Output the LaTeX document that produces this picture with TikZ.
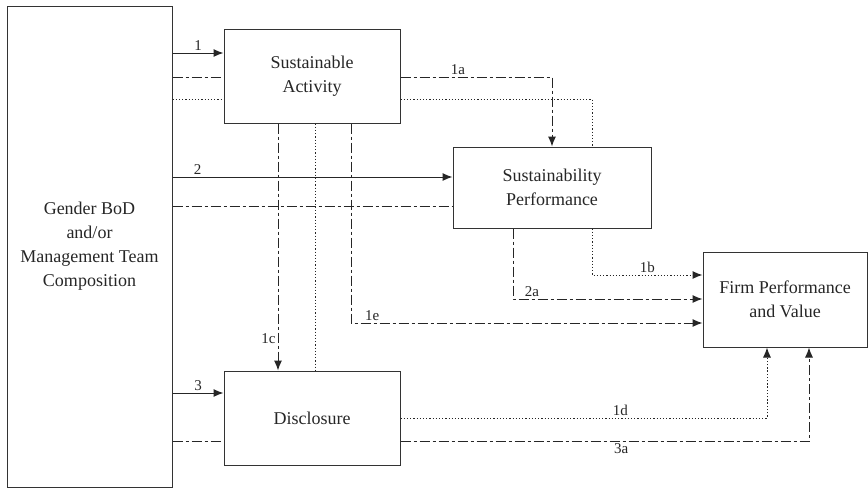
\documentclass[tikz,border=0pt]{standalone}
\usepackage{fontspec}
\setmainfont{Liberation Serif}
\usetikzlibrary{arrows.meta,positioning}

\begin{document}
\begin{tikzpicture}[x=1pt, y=-1pt,
        box/.style={draw=black!80, line width=1pt, align=center, text=black!85,
                    font=\rmfamily\fontsize{18}{24}\selectfont, inner sep=0pt},
        lbl/.style={font=\rmfamily\fontsize{15}{17}\selectfont, text=black!85, inner sep=2pt},
        link/.style={line width=1pt, black!85},
        dashdot/.style={link, dash pattern=on 10pt off 3pt on 3pt off 3pt},
        dots/.style={link, dash pattern=on 1.3pt off 1.9pt},
        tip/.style={-{Latex[length=10pt, width=8pt]}}
    ]
        \useasboundingbox (0,0) rectangle (868,488);

        \node[box, minimum width=165pt, minimum height=481pt] (gender) at (89.5,246.5)
            {Gender BoD\\and/or\\Management Team\\Composition};
        \node[box, minimum width=176pt, minimum height=94pt] (sa) at (312,76) {Sustainable\\Activity};
        \node[box, minimum width=198pt, minimum height=81pt] (sp) at (552,187.5) {Sustainability\\Performance};
        \node[box, minimum width=164pt, minimum height=95pt] (fp) at (785,299.5) {Firm Performance\\and Value};
        \node[box, minimum width=176pt, minimum height=94pt] (disc) at (312,418) {Disclosure};

        \draw[link, tip] (gender.east |- 0,53) -- node[lbl, above] {1} (sa.west |- 0,53);
        \draw[dashdot] (gender.east |- 0,77) -- (sa.west |- 0,77);
        \draw[dots] (gender.east |- 0,99) -- (sa.west |- 0,99);

        \draw[link, tip] (gender.east |- 0,177) -- node[lbl, above, pos=0.09] {2} (sp.west |- 0,177);
        \draw[dashdot] (gender.east |- 0,206) -- (sp.west |- 0,206);

        \draw[link, tip] (gender.east |- 0,393) -- node[lbl, above] {3} (disc.west |- 0,393);
        \draw[dashdot] (gender.east |- 0,441) -- (disc.west |- 0,441);

        \draw[dashdot, tip] (sa.east |- 0,77) -| node[lbl, above, pos=0.19] {1a} (sp.north);
        \draw[dots] (sa.east |- 0,99) -| (sp.north -| 592,0);

        \draw[dashdot, tip] (sa.south -| 278,0) -- node[lbl, left, pos=0.87] {1c} (disc.north -| 278,0);
        \draw[dots] (sa.south -| 315,0) -- (disc.north -| 315,0);
        \draw[dashdot, tip] (sa.south -| 351,0) |- node[lbl, above, pos=0.53] {1e} (fp.west |- 0,323);

        \draw[dots, tip] (sp.south -| 592,0) |- node[lbl, above, pos=0.75] {1b} (fp.west |- 0,275);
        \draw[dashdot, tip] (sp.south -| 513,0) |- node[lbl, above, pos=0.55] {2a} (fp.west |- 0,299);

        \draw[dots, tip] (disc.east |- 0,418) -| node[lbl, above, pos=0.3] {1d} (fp.south -| 767,0);
        \draw[dashdot, tip] (disc.east |- 0,441) -| node[lbl, below, pos=0.27] {3a} (fp.south -| 809,0);
    \end{tikzpicture}
\end{document}
